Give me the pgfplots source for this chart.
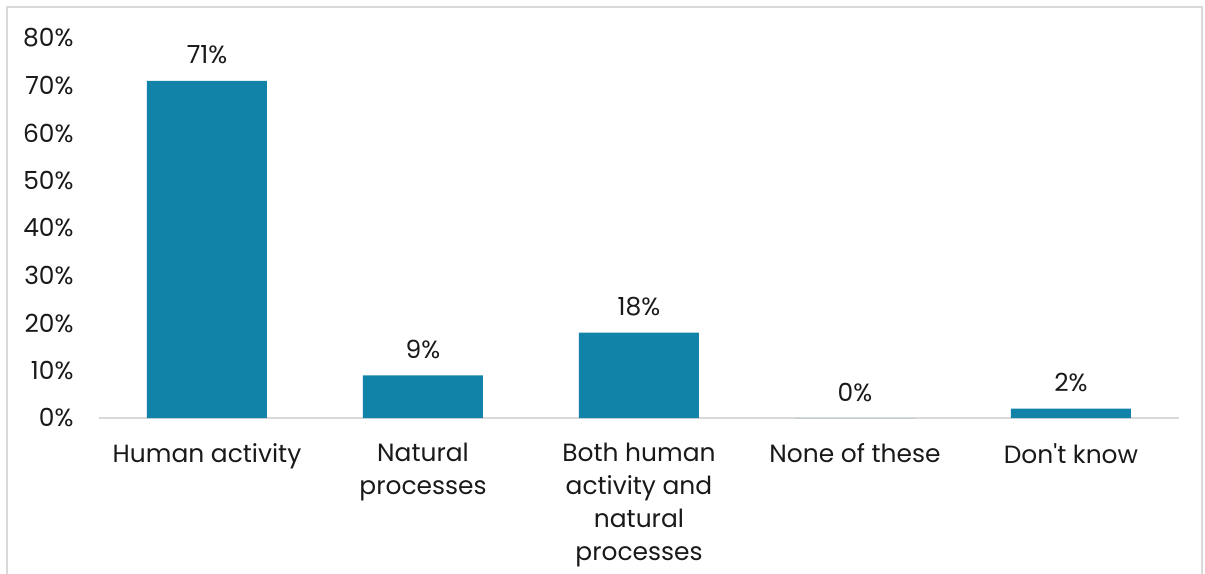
\documentclass[border=0pt]{standalone}
\usepackage{pgfplots}
\pgfplotsset{compat=1.18}
\usepackage{fontspec}
\setmainfont{Poppins}
\definecolor{barblue}{RGB}{17,131,168}
\definecolor{axisgray}{RGB}{217,217,217}
\definecolor{framegray}{RGB}{217,217,217}
\begin{document}
\begin{tikzpicture}[x=1bp,y=1bp]
\useasboundingbox (-99bp,-156bp) rectangle (1106bp,418bp);
\draw[framegray, line width=1.5bp] (-92bp,-170bp) -- (-92bp,411bp) -- (1103bp,411bp) -- (1103bp,-170bp);
\begin{axis}[
  at={(0,0)}, anchor=south west,
  scale only axis,
  width=1080bp, height=380bp,
  xmin=-0.5, xmax=4.5,
  ymin=0, ymax=80,
  ytick={0,10,...,80},
  yticklabel={\pgfmathprintnumber{\tick}\%},
  /pgf/number format/assume math mode=true,
  xtick=data,
  xticklabels={Human activity, Natural\\processes, Both human\\activity and\\natural\\processes, None of these, Don\textquotesingle t know},
  xticklabel style={align=center, font=\fontsize{25}{33}\selectfont, text=black!90, yshift=-22bp},
  yticklabel style={font=\fontsize{25}{28}\selectfont, text=black!90, xshift=-22bp},
  major tick length=0pt,
  axis x line*=bottom,
  axis y line*=left,
  y axis line style={draw=none},
  x axis line style={axisgray, line width=1.5bp, -},
  ybar, bar width=120bp,
  clip=false,
  nodes near coords={\pgfmathprintnumber{\pgfplotspointmeta}\%},
  nodes near coords style={font=\fontsize{25}{28}\selectfont, text=black!90, yshift=13bp},
]
\addplot[fill=barblue, draw=none] coordinates {(0,71) (1,9) (2,18) (3,0) (4,2)};
\end{axis}
\end{tikzpicture}
\end{document}
